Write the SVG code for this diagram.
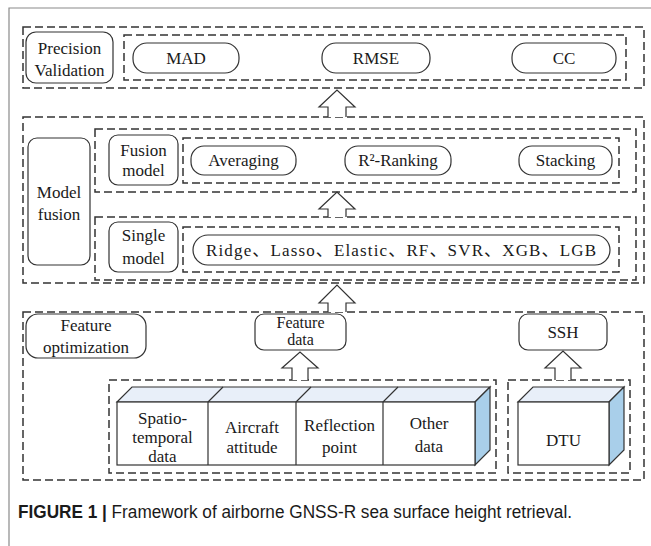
<svg xmlns="http://www.w3.org/2000/svg" width="651" height="546" viewBox="0 0 651 546">
  <style>
    .frame { fill: none; stroke: #8a8a8a; stroke-width: 1.2; }
    .dash { fill: none; stroke: #333; stroke-width: 1.5; stroke-dasharray: 8 4; }
    .node { fill: #fff; stroke: #333; stroke-width: 1.2; }
    .t { font-family: "Liberation Serif", "Noto Sans CJK SC", serif; font-size: 17px; fill: #1a1a1a; text-anchor: middle; }
    .arrow { fill: #fff; stroke: #333; stroke-width: 1.2; }
    .front { fill: #fff; stroke: #333; stroke-width: 1.2; }
    .top { fill: #e8eff9; stroke: #333; stroke-width: 1.2; }
    .side { fill: #a9cfea; stroke: #333; stroke-width: 1.2; }
    .cap { font-family: "Liberation Sans", Arial, sans-serif; font-size: 17.5px; fill: #1a1a1a; }
  </style>

  <rect width="651" height="546" fill="#fff"/>
  <!-- page frame -->
  <path class="frame" d="M9,546 V8 H651"/>

  <!-- group containers -->
  <g id="containers">
    <rect class="dash" x="23" y="27" width="621" height="61"/>
    <rect class="dash" x="124" y="35" width="502" height="45"/>
    <rect class="dash" x="23" y="117" width="621" height="166"/>
    <rect class="dash" x="95" y="129" width="541" height="63"/>
    <rect class="dash" x="183" y="138" width="436" height="45"/>
    <rect class="dash" x="95" y="217" width="541" height="63"/>
    <rect class="dash" x="183" y="227" width="436" height="45"/>
    <rect class="dash" x="23" y="312" width="621" height="168"/>
    <rect class="dash" x="109" y="380" width="387" height="93"/>
    <rect class="dash" x="508" y="380" width="122" height="93"/>
  </g>

  <!-- precision validation -->
  <g id="precision-validation">
    <rect class="node" x="26" y="32" width="87" height="51" rx="10"/>
    <text class="t" x="69.5" y="54">Precision</text>
    <text class="t" x="69.5" y="76">Validation</text>
  </g>
  <g id="mad">
    <rect class="node" x="133" y="43" width="106" height="30" rx="14"/>
    <text class="t" x="186" y="64">MAD</text>
  </g>
  <g id="rmse">
    <rect class="node" x="322" y="43" width="108" height="30" rx="14"/>
    <text class="t" x="376" y="64">RMSE</text>
  </g>
  <g id="cc">
    <rect class="node" x="512" y="43" width="104" height="30" rx="14"/>
    <text class="t" x="564" y="64">CC</text>
  </g>

  <!-- model fusion -->
  <g id="model-fusion">
    <rect class="node" x="28" y="138" width="62" height="127" rx="9"/>
    <text class="t" x="59" y="198">Model</text>
    <text class="t" x="59" y="220">fusion</text>
  </g>
  <g id="fusion-model">
    <rect class="node" x="109" y="135" width="69" height="50" rx="9"/>
    <text class="t" x="143.5" y="156">Fusion</text>
    <text class="t" x="143.5" y="176">model</text>
  </g>
  <g id="averaging">
    <rect class="node" x="191" y="146" width="105" height="29" rx="13"/>
    <text class="t" x="243.5" y="166">Averaging</text>
  </g>
  <g id="r2-ranking">
    <rect class="node" x="345" y="146" width="106" height="29" rx="13"/>
    <text class="t" x="398" y="166">R²-Ranking</text>
  </g>
  <g id="stacking">
    <rect class="node" x="519" y="146" width="93" height="29" rx="13"/>
    <text class="t" x="565.5" y="166">Stacking</text>
  </g>
  <g id="single-model">
    <rect class="node" x="109" y="222" width="69" height="50" rx="9"/>
    <text class="t" x="143.5" y="241">Single</text>
    <text class="t" x="143.5" y="264">model</text>
  </g>
  <g id="single-models">
    <rect class="node" x="193" y="235" width="417" height="30" rx="15"/>
    <text class="t" x="401" y="256" textLength="390" lengthAdjust="spacing">Ridge、Lasso、Elastic、RF、SVR、XGB、LGB</text>
  </g>

  <!-- feature optimization -->
  <g id="feature-optimization">
    <rect class="node" x="26" y="314" width="120" height="44" rx="12"/>
    <text class="t" x="86" y="331">Feature</text>
    <text class="t" x="86" y="353">optimization</text>
  </g>
  <g id="feature-data">
    <rect class="node" x="255" y="314" width="91" height="36" rx="9"/>
    <text class="t" x="300.5" y="328" style="font-size:16px">Feature</text>
    <text class="t" x="300.5" y="345" style="font-size:16px">data</text>
  </g>
  <g id="ssh">
    <rect class="node" x="519" y="314" width="88" height="36" rx="9"/>
    <text class="t" x="563" y="338">SSH</text>
  </g>

  <!-- input data block -->
  <g id="input-data">
    <polygon class="top" points="117,402 132,387 490,387 475,402"/>
    <polygon class="side" points="475,402 490,387 490,450 475,465"/>
    <rect class="front" x="117" y="402" width="358" height="63"/>
    <path class="front" d="M208,402 V465 M296,402 V465 M383,402 V465 M208,402 L223,387 M296,402 L311,387 M383,402 L398,387"/>
    <text class="t" x="162.5" y="424">Spatio-</text>
    <text class="t" x="162.5" y="443">temporal</text>
    <text class="t" x="162.5" y="462">data</text>
    <text class="t" x="252" y="433">Aircraft</text>
    <text class="t" x="252" y="453">attitude</text>
    <text class="t" x="339.5" y="431">Reflection</text>
    <text class="t" x="339.5" y="453">point</text>
    <text class="t" x="429" y="429">Other</text>
    <text class="t" x="429" y="452">data</text>
  </g>
  <g id="dtu">
    <polygon class="top" points="518,402 533,387 624,387 609,402"/>
    <polygon class="side" points="609,402 624,387 624,450 609,465"/>
    <rect class="front" x="518" y="402" width="91" height="63"/>
    <text class="t" x="563.5" y="446">DTU</text>
  </g>

  <!-- flow arrows -->
  <g id="connectors">
    <path class="arrow" d="M328,117 V107 H319 L337,90 L355,107 H346 V117"/>
    <path class="arrow" d="M328,217 V209 H319 L337,192 L355,209 H346 V217"/>
    <path class="arrow" d="M328,312 V303 H319 L337,285 L355,303 H346 V312"/>
    <path class="arrow" d="M292,380 V368 H282 L300,352 L318,368 H308 V380"/>
    <path class="arrow" d="M555,380 V368 H545 L563,351 L581,368 H571 V380"/>
  </g>

  <!-- caption -->
  <text class="cap" x="18" y="518" textLength="554" lengthAdjust="spacingAndGlyphs"><tspan font-weight="bold">FIGURE 1 | </tspan>Framework of airborne GNSS-R sea surface height retrieval.</text>
</svg>
